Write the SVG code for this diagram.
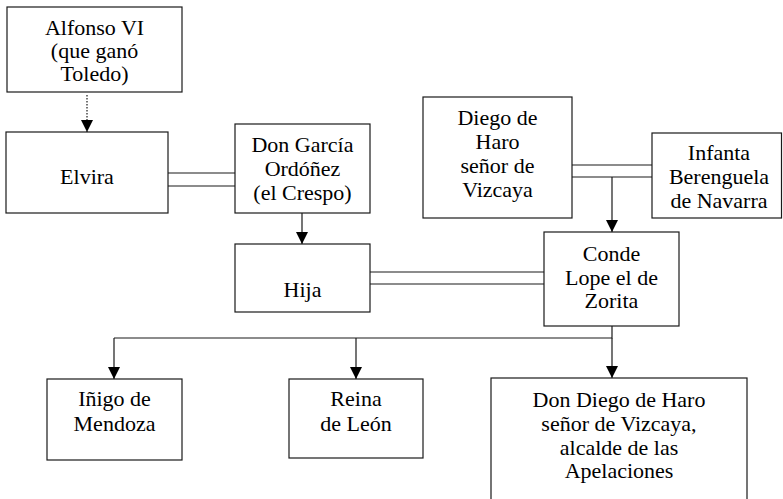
<svg xmlns="http://www.w3.org/2000/svg" width="783" height="499" viewBox="0 0 783 499">
<style>
.box{fill:#fff;stroke:#1a1a1a;stroke-width:1.2}
.t{font-size:22px;fill:#000;text-anchor:middle}
.ln{fill:none;stroke:#1a1a1a;stroke-width:1.2}
.dot{fill:none;stroke:#1a1a1a;stroke-width:1.2;stroke-dasharray:1.5 1.5}
</style>
<defs>
<marker id="arr" markerUnits="userSpaceOnUse" markerWidth="12" markerHeight="12" refX="12" refY="6" orient="auto">
<path d="M0,0 L12,6 L0,12 z" fill="#000"/>
</marker>
</defs>
<rect width="783" height="499" fill="#fff"/>
<g id="connectors">
<line class="dot" x1="87" y1="95" x2="87" y2="132" marker-end="url(#arr)"/>
<line class="ln" x1="168" y1="173" x2="235" y2="173"/>
<line class="ln" x1="168" y1="186" x2="235" y2="186"/>
<line class="ln" x1="302" y1="213" x2="302" y2="244" marker-end="url(#arr)"/>
<line class="ln" x1="572" y1="165" x2="652" y2="165"/>
<line class="ln" x1="572" y1="177" x2="652" y2="177"/>
<line class="ln" x1="612" y1="177" x2="612" y2="232" marker-end="url(#arr)"/>
<line class="ln" x1="370" y1="272" x2="544" y2="272"/>
<line class="ln" x1="370" y1="284" x2="544" y2="284"/>
<polyline class="ln" points="612,326 612,338 114,338"/>
<line class="ln" x1="114" y1="338" x2="114" y2="379" marker-end="url(#arr)"/>
<line class="ln" x1="356" y1="338" x2="356" y2="379" marker-end="url(#arr)"/>
<line class="ln" x1="612" y1="338" x2="612" y2="378" marker-end="url(#arr)"/>
</g>
<g font-family="Liberation Serif, DejaVu Serif, serif">
<g id="alfonso">
<rect class="box" x="7" y="7" width="175" height="85"/>
<text class="t" x="94.5" y="35">Alfonso VI</text>
<text class="t" x="94.5" y="58">(que ganó</text>
<text class="t" x="94.5" y="81">Toledo)</text>
</g>
<g id="elvira">
<rect class="box" x="6" y="132" width="162" height="81"/>
<text class="t" x="87" y="184">Elvira</text>
</g>
<g id="garcia">
<rect class="box" x="235" y="124" width="135" height="89"/>
<text class="t" x="302.5" y="152">Don García</text>
<text class="t" x="302.5" y="176">Ordóñez</text>
<text class="t" x="302.5" y="200">(el Crespo)</text>
</g>
<g id="hija">
<rect class="box" x="235" y="244" width="135" height="68"/>
<text class="t" x="302.5" y="297">Hija</text>
</g>
<g id="diego">
<rect class="box" x="423" y="97" width="149" height="121"/>
<text class="t" x="497.5" y="125">Diego de</text>
<text class="t" x="497.5" y="149">Haro</text>
<text class="t" x="497.5" y="173">señor de</text>
<text class="t" x="497.5" y="197">Vizcaya</text>
</g>
<g id="infanta">
<rect class="box" x="652" y="133" width="129.5" height="85"/>
<text class="t" x="719" y="160">Infanta</text>
<text class="t" x="719" y="184">Berenguela</text>
<text class="t" x="719" y="208">de Navarra</text>
</g>
<g id="conde">
<rect class="box" x="544" y="232" width="135" height="94"/>
<text class="t" x="611.5" y="261">Conde</text>
<text class="t" x="611.5" y="285">Lope el de</text>
<text class="t" x="611.5" y="308">Zorita</text>
</g>
<g id="inigo">
<rect class="box" x="47" y="379" width="135" height="81"/>
<text class="t" x="114.5" y="406">Iñigo de</text>
<text class="t" x="114.5" y="431">Mendoza</text>
</g>
<g id="reina">
<rect class="box" x="289" y="379" width="134" height="79"/>
<text class="t" x="356" y="406">Reina</text>
<text class="t" x="356" y="431">de León</text>
</g>
<g id="dondiego">
<rect class="box" x="491" y="378" width="256" height="140"/>
<text class="t" x="619" y="407">Don Diego de Haro</text>
<text class="t" x="619" y="431">señor de Vizcaya,</text>
<text class="t" x="619" y="455">alcalde de las</text>
<text class="t" x="619" y="478">Apelaciones</text>
</g>
</g>
</svg>
